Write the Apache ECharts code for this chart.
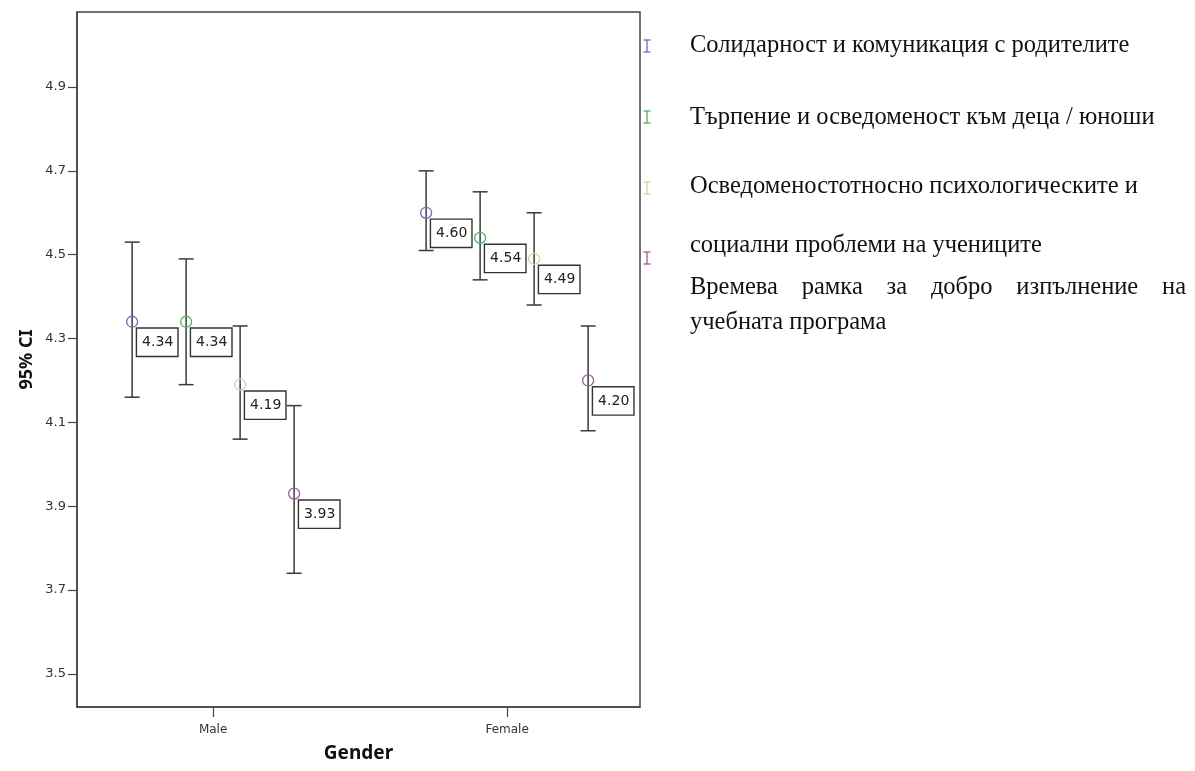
<!DOCTYPE html>
<html>
<head>
<meta charset="utf-8">
<script src="https://cdn.jsdelivr.net/npm/echarts@6/dist/echarts.min.js"></script>
<style>
  html, body { margin: 0; padding: 0; background: #fff; }
  #chart { width: 1195px; height: 771px; }
</style>
</head>
<body>
<div id="chart"></div>
<script>
// Groups on the horizontal axis
const groups = ['Male', 'Female'];
const groupPositions = [1, 2];

// Scale names, split into the lines used in the legend block
const scaleNameLines = [
  ['Солидарност и комуникация с родителите'],
  ['Търпение и осведоменост към деца / юноши'],
  ['Осведоменостотносно психологическите и', 'социални проблеми на учениците'],
  ['Времева рамка за добро изпълнение на', 'учебната програма']
];

// Means and 95% confidence limits, one row per scale: [Male, Female]
const meanValues = [[4.34, 4.60], [4.34, 4.54], [4.19, 4.49], [3.93, 4.20]];
const lowerCI    = [[4.16, 4.51], [4.19, 4.44], [4.06, 4.38], [3.74, 4.08]];
const upperCI    = [[4.53, 4.70], [4.49, 4.65], [4.33, 4.60], [4.14, 4.33]];

// Value axis ticks
const yTickValues = [3.5, 3.7, 3.9, 4.1, 4.3, 4.5, 4.7, 4.9];

const scaleColors = ['#6a6abd', '#4cb25c', '#d4d4a0', '#9a5c9a'];
const barColor = '#3a3a3a';
const clusterStep = 54;   // pixel spacing between scales inside a group

const chart = echarts.init(document.getElementById('chart'), null, { renderer: 'canvas' });

function makeRenderer(si) {
  return function (params, api) {
    const g = api.value(0), lo = api.value(1), mid = api.value(2), hi = api.value(3);
    const shift = (si - (meanValues.length - 1) / 2) * clusterStep;
    const pTop = api.coord([g, hi]);
    const pBot = api.coord([g, lo]);
    const pMid = api.coord([g, mid]);
    const x = pMid[0] + shift;
    const cap = 7.5;
    const lineStyle = { stroke: barColor, lineWidth: 1.5 };
    return {
      type: 'group',
      children: [
        { type: 'line', shape: { x1: x, y1: pTop[1], x2: x, y2: pBot[1] }, style: lineStyle },
        { type: 'line', shape: { x1: x - cap, y1: pTop[1], x2: x + cap, y2: pTop[1] }, style: lineStyle },
        { type: 'line', shape: { x1: x - cap, y1: pBot[1], x2: x + cap, y2: pBot[1] }, style: lineStyle },
        { type: 'circle', shape: { cx: x, cy: pMid[1], r: 5.5 },
          style: { fill: 'none', stroke: scaleColors[si], lineWidth: 1.3 } },
        { type: 'text', x: x + 5, y: pMid[1] + 7,
          style: {
            text: mid.toFixed(2), font: '14px "DejaVu Sans"', fill: '#222',
            align: 'left', verticalAlign: 'top', lineHeight: 17,
            backgroundColor: '#fff', borderColor: '#333', borderWidth: 1.4,
            padding: [5, 4, 5, 5]
          } }
      ]
    };
  };
}

const series = meanValues.map(function (means, si) {
  return {
    type: 'custom',
    name: scaleNameLines[si].join(' '),
    renderItem: makeRenderer(si),
    encode: { x: 0, y: [1, 2, 3] },
    data: groupPositions.map(function (gp, gi) {
      return [gp, lowerCI[si][gi], means[gi], upperCI[si][gi]];
    }),
    z: 3
  };
});

// Legend block to the right of the plot
const legendFont = '24.5px "Liberation Serif"';
const iconX = 647;
const iconYs = [46, 117, 188, 258];
const lineYs = [[46], [118], [187, 246], [288, 323]];
const textLeft = 690;
const justifyRight = 1186;

const measureCtx = document.createElement('canvas').getContext('2d');
measureCtx.font = legendFont;

const graphics = [];
scaleColors.forEach(function (c, i) {
  const y = iconYs[i];
  const st = { stroke: c, lineWidth: 1.3 };
  graphics.push({ type: 'line', shape: { x1: iconX, y1: y - 6, x2: iconX, y2: y + 6 }, style: st });
  graphics.push({ type: 'line', shape: { x1: iconX - 3.5, y1: y - 6, x2: iconX + 3.5, y2: y - 6 }, style: st });
  graphics.push({ type: 'line', shape: { x1: iconX - 3.5, y1: y + 6, x2: iconX + 3.5, y2: y + 6 }, style: st });
});
scaleNameLines.forEach(function (lines, i) {
  lines.forEach(function (line, li) {
    const y = lineYs[i][li];
    const justified = (i === 3 && li === 0);
    if (justified) {
      const words = line.split(' ');
      const widths = words.map(function (w) { return measureCtx.measureText(w).width; });
      const total = widths.reduce(function (a, b) { return a + b; }, 0);
      const gap = (justifyRight - textLeft - total) / (words.length - 1);
      let x = textLeft;
      words.forEach(function (w, wi) {
        graphics.push({ type: 'text', x: x, y: y,
          style: { text: w, font: legendFont, fill: '#111', verticalAlign: 'middle', align: 'left' } });
        x += widths[wi] + gap;
      });
    } else {
      graphics.push({ type: 'text', x: textLeft, y: y,
        style: { text: line, font: legendFont, fill: '#111', verticalAlign: 'middle', align: 'left' } });
    }
  });
});

chart.setOption({
  animation: false,
  backgroundColor: '#fff',
  grid: { left: 77, right: 555, top: 12, bottom: 64, show: true, borderColor: '#444', borderWidth: 1.5 },
  xAxis: {
    type: 'value',
    min: 0.537, max: 2.452,
    name: 'Gender', nameLocation: 'middle', nameGap: 37,
    nameTextStyle: { fontFamily: 'Noto Sans', fontWeight: 'bold', fontSize: 19, color: '#111' },
    axisLine: { show: true, lineStyle: { color: '#444', width: 1.5 } },
    axisTick: { show: true, length: 10, customValues: groupPositions, lineStyle: { color: '#444', width: 1.2 } },
    axisLabel: {
      customValues: groupPositions, margin: 17,
      fontFamily: 'DejaVu Sans', fontSize: 12, color: '#333',
      formatter: function (v) { return groups[groupPositions.indexOf(v)] || ''; }
    },
    splitLine: { show: false }
  },
  yAxis: {
    type: 'value',
    min: 3.421, max: 5.079,
    name: '95% CI', nameLocation: 'middle', nameGap: 41,
    nameTextStyle: { fontFamily: 'Noto Sans', fontWeight: 'bold', fontSize: 18, color: '#111' },
    axisLine: { show: true, lineStyle: { color: '#444', width: 1.5 } },
    axisTick: { show: true, length: 9, customValues: yTickValues, lineStyle: { color: '#444', width: 1.2 } },
    axisLabel: {
      customValues: yTickValues, margin: 11,
      fontFamily: 'DejaVu Sans', fontSize: 13, color: '#333',
      formatter: function (v) { return v.toFixed(1); }
    },
    splitLine: { show: false }
  },
  graphic: graphics,
  series: series
});
</script>
</body>
</html>
